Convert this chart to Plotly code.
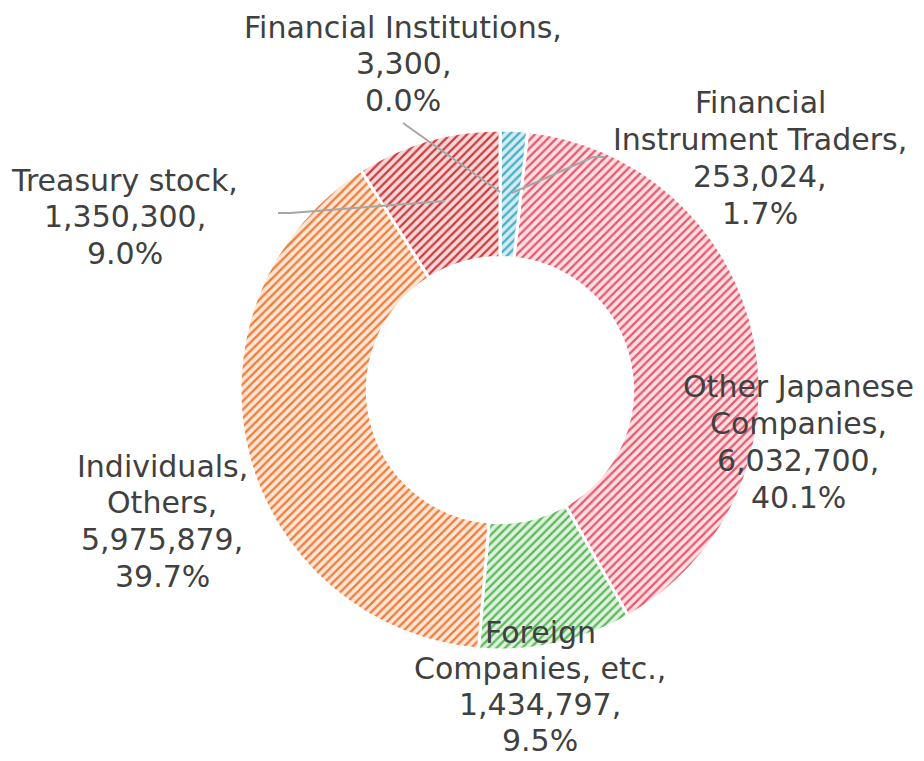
import plotly.graph_objects as go

labels = ["Financial Institutions", "Financial Instrument Traders", "Other Japanese Companies",
          "Foreign Companies, etc.", "Individuals, Others", "Treasury stock"]
label_lines = [["Financial Institutions,"], ["Financial", "Instrument Traders,"],
               ["Other Japanese", "Companies,"], ["Foreign", "Companies, etc.,"],
               ["Individuals,", "Others,"], ["Treasury stock,"]]
values = [3300, 253024, 6032700, 1434797, 5975879, 1350300]

fg_colors = ["#8064a2", "#4bacc6", "#e8596e", "#5cb85c", "#ee7d3b", "#cc3d40"]
bg_colors = ["#e0d8ec", "#d3edf4", "#fce0e3", "#def2de", "#fde6d6", "#f7d9d9"]

W, H = 924, 761
OFF = 8  # browser body margin offset
LINE = 36.8
total = sum(values)

# centre x and first-line centre y of each label (pixel, screenshot coordinates)
label_pos = [(403, 27), (760, 103), (798, 387), (540, 632), (162, 466), (125, 180)]

def px(x):
    return (x - OFF) / W

def py(y):
    return 1 - (y - OFF) / H

fig = go.Figure(go.Pie(
    labels=labels, values=values, sort=False, direction="clockwise", rotation=0,
    hole=0.51, textinfo="none", hoverinfo="label+value+percent",
    marker=dict(colors=bg_colors, line=dict(color="white", width=3),
                pattern=dict(shape="/", fgcolor=fg_colors, bgcolor=bg_colors,
                             size=6, solidity=0.38, fillmode="replace")),
    domain=dict(x=[px(240), px(760)], y=[py(650), py(130)]),
    showlegend=False,
))

annotations = []
for lines, v, (x, y) in zip(label_lines, values, label_pos):
    all_lines = lines + [f"{v:,},", f"{v/total*100:.1f}%"]
    step = LINE if y < 600 else 36.0
    for i, t in enumerate(all_lines):
        annotations.append(dict(x=px(x), y=py(y + i * step), xref="paper", yref="paper", text=t,
                                showarrow=False, xanchor="center", yanchor="middle",
                                font=dict(family="DejaVu Sans", size=30, color="#404040")))

def seg(x0, y0, x1, y1):
    return dict(type="line", xref="paper", yref="paper", x0=px(x0), y0=py(y0),
                x1=px(x1), y1=py(y1), line=dict(color="#a6a6a6", width=2))

shapes = [
    seg(403, 123, 500, 192),
    seg(605, 157, 593, 157), seg(593, 157, 512, 193),
    seg(278, 213, 290, 213), seg(290, 213, 445, 201),
]

fig.update_layout(width=W, height=H, margin=dict(l=0, r=0, t=0, b=0),
                  paper_bgcolor="white", plot_bgcolor="white",
                  annotations=annotations, shapes=shapes)
fig.write_html("out.html")
